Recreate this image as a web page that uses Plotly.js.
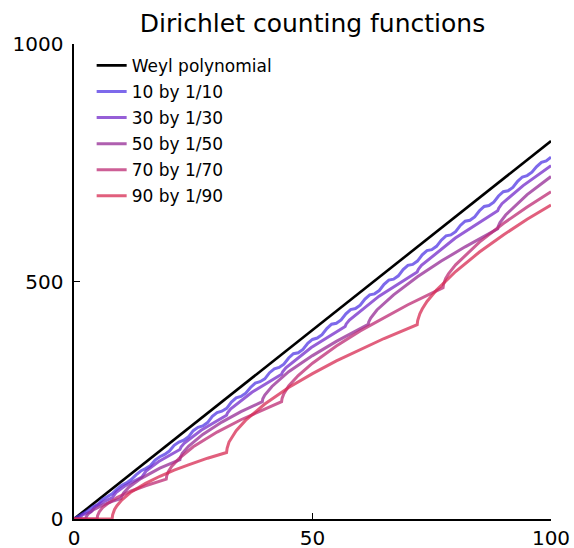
<!DOCTYPE html>
<html>
<head>
<meta charset="utf-8">
<script src="https://cdn.plot.ly/plotly-3.0.1.min.js"></script>
<style>html,body{margin:0;padding:0;background:#fff;}#chart{width:574px;height:548px;}</style>
</head>
<body>
<div id="chart"></div>
<script>
// Weyl polynomial
const weylX = [0, 100];
const weylY = [0, 795.8];

// 10 by 1/10
const x10 = [0,1,2,3,4,5,6,7,8,9,10,11,12,13,14,15,16,17,18,19,20,21,22,23,24,25,26,27,28,29,30,31,32,33,34,35,36,37,38,39,40,41,42,43,44,45,46,47,48,49,50,51,52,53,54,55,56,57,58,59,60,61,62,63,64,65,66,67,68,69,70,71,72,73,74,75,76,77,78,79,80,81,82,83,84,85,86,87,88,89,90,91,92,93,94,95,96,97,98,99,100];
const y10 = [0,6,13,18,26,31,41,47,53,63,71,76,83,93,101,106,112,124,131,136,143,155,162,166,173,186,193,196,203,216,224,227,233,246,255,258,265,277,286,289,295,308,316,319,326,339,348,350,357,370,378,381,388,401,410,412,419,432,441,443,450,463,472,474,481,494,503,505,512,525,534,536,543,556,565,567,574,587,596,598,605,618,627,629,636,649,658,660,667,680,689,691,698,711,720,723,730,742,751,754,762];

// 30 by 1/30
const x30 = [0,0.888,1.777,2.665,3.553,4.441,5.33,6.218,7.994,8.883,10.659,12.436,14.212,15.1,17.765,22.207,22.429,23.095,26.648,31.977,32.2,32.866,37.307,43.525,43.747,44.413,49.743,56.849,57.071,57.737,63.955,71.95,72.172,72.838,79.944,88.826,89.048,89.715,94.156,100];
const y30 = [0,0,8.5,12.2,15.1,26,31.9,36.6,44.6,56.5,69.4,79.5,88.3,100.9,121.1,146.3,151.4,159.3,186.9,218.5,223.7,231.8,266.8,304.9,310.1,318.3,360.9,405.4,410.7,419,469.1,520.1,525.4,533.9,591.5,649,654.3,663.9,701.8,744];

// 50 by 1/50
const x50 = [0,2.47,2.57,3,4,6,8,9.87,9.97,10.4,11.5,14,18,22.21,22.31,22.7,24,27,31,35,39.48,39.58,40,41.5,45,50,55,61.69,61.79,62.2,63.5,67,72,77,82,88.83,88.93,89.3,90.5,95,100];
const y50 = [0,0,5,11,19,29,37,43,47,55,67,85,107,125,130,138,153,178,204,226,247,253,261,279,310,344,374,410,415,423,440,472,510,543,573,611,616,624,640,683,721];

// 70 by 1/70
const x70 = [0,4.84,4.94,5.3,6,7,9,12,15,19.34,19.44,19.8,20.5,22,25,30,35,40,43.52,43.62,44,45,47,50,55,60,65,70,77.37,77.47,77.9,78.5,80,85,90,95,100];
const y70 = [0,0,7,15,24,32,45,59,70,84,91,100,111,127,152,183,209,232,247,254,264,280,302,328,364,396,424,451,487,494,506,516,535,583,622,657,689];

// 90 by 1/90
const x90 = [0,7.99,8.1,8.5,9,10,12,15,18,21,24,28,31.98,32.1,32.5,33,34,36,40,45,50,55,60,65,71.95,72.05,72.5,73,74,76,80,85,90,95,100];
const y90 = [0,0,9,20,28,40,57,75,90,103,114,128,140,149,162,171,186,208,242,277,306,333,357,380,409,418,432,442,458,482,521,562,598,631,661];

const names = ['Weyl polynomial','10 by 1/10','30 by 1/30','50 by 1/50','70 by 1/70','90 by 1/90'];
const colors = ['#000000','rgba(81,55,228,0.75)','rgba(115,41,201,0.75)','rgba(148,41,148,0.75)','rgba(188,41,115,0.75)','rgba(215,41,82,0.75)'];
const xs = [weylX, x10, x30, x50, x70, x90];
const ys = [weylY, y10, y30, y50, y70, y90];

const traces = xs.map((x, i) => ({
  type: 'scatter', mode: 'lines', x: x, y: ys[i], name: names[i],
  legendgroup: 'g' + i,
  line: {color: colors[i], width: i === 0 ? 2.6 : 3, shape: 'linear'},
  hoverinfo: 'skip'
}));

const font = {family: 'DejaVu Sans, sans-serif', color: '#000'};
const axisCommon = {
  showgrid: false, zeroline: false, showline: true, linecolor: '#000', linewidth: 1.6,
  ticks: 'inside', ticklen: 6, tickwidth: 1.2, tickcolor: '#000',
  tickfont: Object.assign({size: 20}, font), mirror: false, fixedrange: true
};

const layout = {
  width: 574, height: 548,
  margin: {l: 74, r: 23, t: 44, b: 29, pad: 0},
  paper_bgcolor: '#fff', plot_bgcolor: '#fff',
  font: font,
  title: {text: 'Dirichlet counting functions', font: Object.assign({size: 25}, font),
          x: 0.5, xref: 'paper', y: 0.957, yref: 'container', yanchor: 'middle'},
  showlegend: true,
  legend: {x: 0.037, y: 0.992, xanchor: 'left', yanchor: 'top', bgcolor: 'rgba(0,0,0,0)',
           borderwidth: 0, font: Object.assign({size: 17}, font),
           traceorder: 'grouped', tracegroupgap: 1},
  xaxis: Object.assign({range: [0, 100], tickvals: [0, 50, 100], ticktext: ['0','50','100'], ticklabelstandoff: 0}, axisCommon),
  yaxis: Object.assign({range: [0, 1000], tickvals: [0, 500, 1000], ticktext: ['0','500','1000'], ticklabelstandoff: 5}, axisCommon)
};

Plotly.newPlot('chart', traces, layout, {staticPlot: true, displayModeBar: false});
</script>
</body>
</html>
